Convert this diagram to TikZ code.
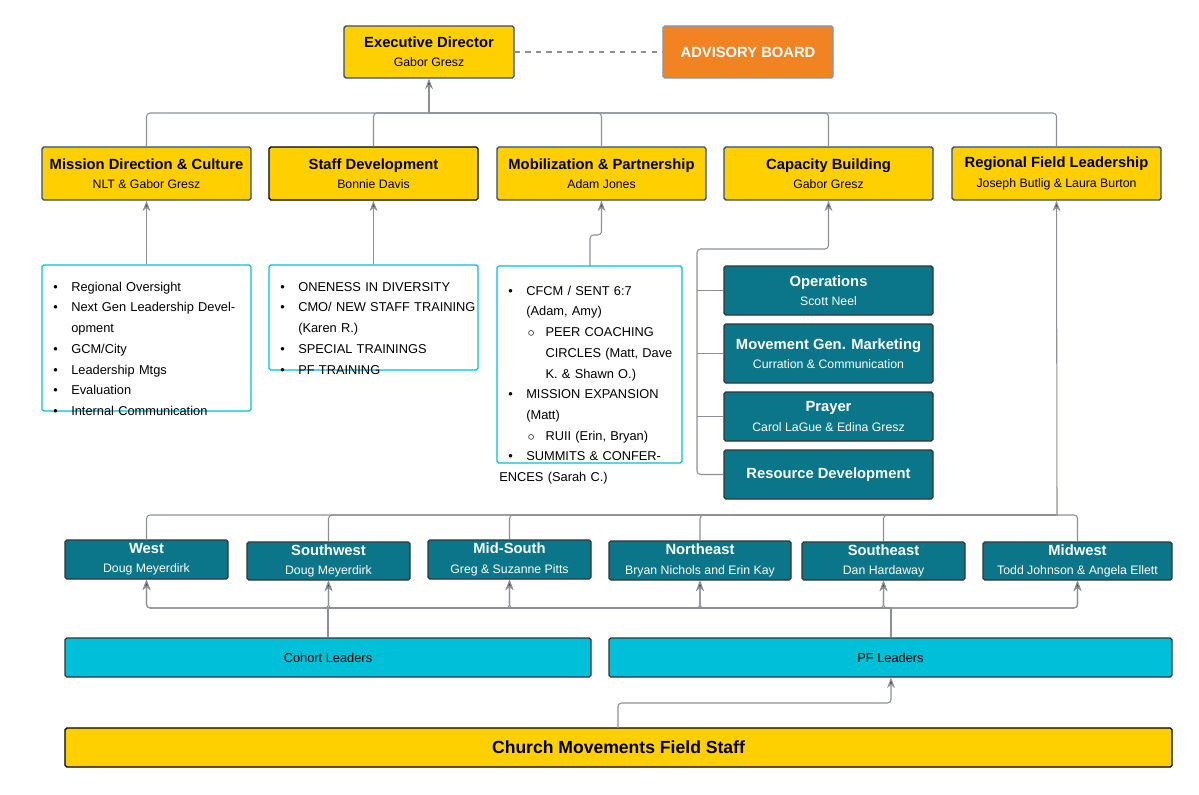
\documentclass[tikz,border=0pt]{standalone}
\usepackage{fontspec}
\setmainfont{Liberation Sans}
\usetikzlibrary{arrows.meta}
\definecolor{yel}{HTML}{FFCF00}
\definecolor{ora}{HTML}{F28322}
\definecolor{teal}{HTML}{0B7689}
\definecolor{cyn}{HTML}{00BFD8}
\definecolor{bdr}{HTML}{2F4C7E}
\definecolor{ln}{HTML}{8C9096}
\definecolor{tip}{HTML}{3C4550}
\newcommand\bx[7]{\node[#6, minimum width={(#4-#2)*0.02cm}, minimum height={(#5-#3)*0.02cm}] (#1) at ({(#2+#4)/2},{(#3+#5)/2}) {#7};}
\newcommand\bi[1]{\par\hangindent=2.1em\hangafter=1\noindent\hspace*{0.7em}\makebox[1.4em][l]{\textbullet}#1}
\newcommand\si[1]{\par\hangindent=3.6em\hangafter=1\noindent\hspace*{2.2em}\makebox[1.4em][l]{$\circ$}#1}
\newcommand\ttl[2]{{\fontsize{8.4}{10}\selectfont\bfseries #1}\\[-1pt]{\fontsize{7}{9}\selectfont #2}}
\begin{document}
\begin{tikzpicture}[x=0.02cm,y=-0.02cm,
  every node/.style={inner sep=0pt, align=center},
  yb/.style={draw=bdr, fill=yel, line width=0.8pt, rounded corners=1pt},
  tb/.style={draw=black!80, fill=teal, text=white, line width=0.7pt, rounded corners=1pt},
  cb/.style={draw=black!80, fill=cyn, line width=0.7pt, rounded corners=1pt},
  lb/.style={draw=cyn, fill=white, line width=0.7pt, rounded corners=1pt},
  con/.style={draw=ln, line width=0.6pt, rounded corners=2pt},
  arr/.style={con, -{Stealth[length=6pt,width=4.5pt,fill=tip]}},
  lt/.style={anchor=north west, text width=#1, align=left, font=\fontsize{7.3}{11.8}\selectfont}]
\useasboundingbox (0,0) rectangle (1199,794);
% top
\bx{ed}{344}{26}{514}{78}{yb}{\ttl{Executive Director}{Gabor Gresz}}
\bx{ab}{663}{26}{833}{78}{draw=bdr!60, fill=ora, text=white, line width=0.8pt, rounded corners=1pt}{\fontsize{8.4}{10}\selectfont\bfseries ADVISORY BOARD}
\draw[draw=ln, dashed, line width=0.7pt] (ed.east) -- (ab.west);
% row 2
\bx{md}{42}{147}{251}{200}{yb}{\ttl{Mission Direction \& Culture}{NLT \& Gabor Gresz}}
\bx{sd}{269}{147}{478}{200}{yb, draw=black}{\ttl{Staff Development}{Bonnie Davis}}
\bx{mp}{497}{147}{706}{200}{yb}{\ttl{Mobilization \& Partnership}{Adam Jones}}
\bx{cap}{724}{147}{933}{200}{yb}{\ttl{Capacity Building}{Gabor Gresz}}
\bx{rfl}{952}{147}{1161}{200}{yb}{\ttl{Regional Field Leadership}{Joseph Butlig \& Laura Burton}}
\coordinate (bus) at (429,113);
\draw[arr] (bus) -- (ed.south);
\foreach \n in {md,sd,mp,cap,rfl}{\draw[con] (\n.north) |- (bus);}
% lists
\bx{l1}{42}{265}{251}{411}{lb}{}
\node[lt=3.95cm] at (44,270) {\bi{Regional Oversight}\bi{Next Gen Leadership Development}\bi{GCM/City}\bi{Leadership Mtgs}\bi{Evaluation}\bi{Internal Communication}};
\bx{l2}{269}{265}{478}{370}{lb}{}
\node[lt=4.1cm] at (271,270) {\bi{ONENESS IN DIVERSITY}\bi{CMO/ NEW STAFF TRAINING (Karen R.)}\bi{SPECIAL TRAININGS}\bi{PF TRAINING}};
\bx{l3}{497}{266}{682}{463}{lb}{}
\node[lt=3.55cm] at (499,274) {\bi{CFCM / SENT 6:7 (Adam, Amy)}\si{PEER COACHING CIRCLES (Matt, Dave K. \& Shawn O.)}\bi{MISSION EXPANSION (Matt)}\si{RUII (Erin, Bryan)}\bi{SUMMITS \& CONFERENCES (Sarah C.)}};
\draw[arr] (l1.north) -- (md.south);
\draw[arr] (l2.north) -- (sd.south);
\coordinate (mpk) at (590,235);
\draw[arr] (590,266) -- (mpk) -| (mp.south);
% capacity
\bx{op}{724}{266}{933}{315}{tb}{\ttl{Operations}{Scott Neel}}
\bx{mg}{724}{324}{933}{383}{tb}{\ttl{Movement Gen. Marketing}{Curration \& Communication}}
\bx{pr}{724}{392}{933}{441}{tb}{\ttl{Prayer}{Carol LaGue \& Edina Gresz}}
\bx{rd}{724}{450}{933}{499}{tb}{{\fontsize{8.4}{10}\selectfont\bfseries Resource Development}}
\coordinate (cj) at (697,249);
\draw[arr] (rd.west) -| (cj) -| (cap.south);
\foreach \n in {op,mg,pr}{\draw[con] (\n.west) -- (697,0|-\n.west);}
% regions
\bx{we}{65}{540}{228}{579}{tb}{\ttl{West}{Doug Meyerdirk}}
\bx{sw}{247}{542}{410}{580}{tb}{\ttl{Southwest}{Doug Meyerdirk}}
\bx{ms}{428}{540}{591}{579}{tb}{\ttl{Mid-South}{Greg \& Suzanne Pitts}}
\bx{ne}{609}{541}{791}{580}{tb}{\ttl{Northeast}{Bryan Nichols and Erin Kay}}
\bx{se}{802}{542}{965}{580}{tb}{\ttl{Southeast}{Dan Hardaway}}
\bx{mw}{983}{542}{1172}{580}{tb}{\ttl{Midwest}{Todd Johnson \& Angela Ellett}}
\coordinate (rb) at (1057,515);
\draw[arr] (rb) -- (rfl.south);
\foreach \n in {we,sw,ms,ne,se,mw}{\draw[con] (\n.north) |- (rb);}
% leaders
\bx{co}{65}{638}{591}{677}{cb}{\fontsize{7.3}{9}\selectfont Cohort Leaders}
\bx{pf}{609}{638}{1172}{677}{cb}{\fontsize{7.3}{9}\selectfont PF Leaders}
\coordinate (b1) at (328,608);
\coordinate (b2) at (891,608);
\draw[con] (co.north-|b1) -- (b1);
\draw[con] (pf.north-|b2) -- (b2);
\foreach \n in {we,sw,ms,ne,se,mw}{\draw[arr] (b1) -| (\n.south); \draw[arr] (b2) -| (\n.south);}
% church
\bx{ch}{65}{728}{1172}{767}{yb, draw=black}{{\fontsize{10}{12}\selectfont\bfseries Church Movements Field Staff}}
\draw[arr] (618,728) |- (891,703) -- (pf.south-|b2);
\end{tikzpicture}
\end{document}
